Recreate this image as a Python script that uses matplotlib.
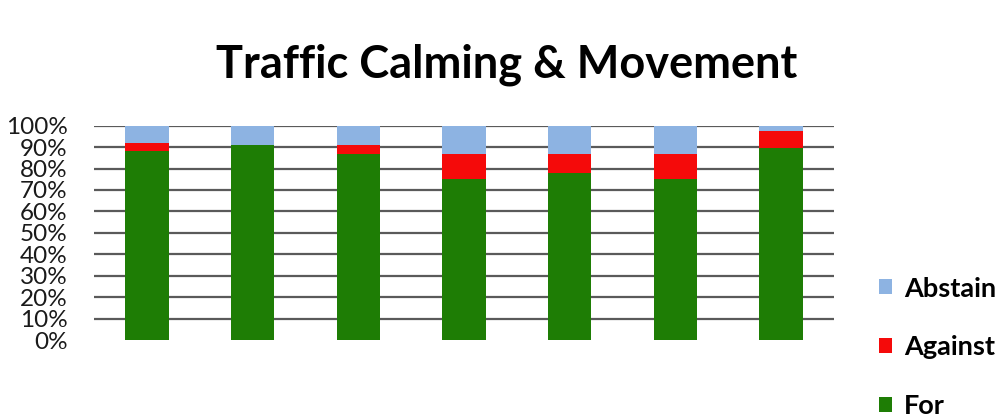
import numpy as np
import matplotlib
matplotlib.use("Agg")
import matplotlib.pyplot as plt
from matplotlib.ticker import PercentFormatter

# values (share of responses, %)
questions = ["Q1", "Q2", "Q3", "Q4", "Q5", "Q6", "Q7"]
vote_for = [88, 91, 87, 75, 78, 75, 89.5]
vote_against = [4, 0, 4, 12, 9, 12, 8]
vote_abstain = [8, 9, 9, 13, 13, 13, 2.5]

green = "#1e7d05"
red = "#f50a0a"
blue = "#8db3e2"

plt.rcParams["font.family"] = ["Lato", "DejaVu Sans"]

fig = plt.figure(figsize=(10, 4.19), dpi=100)
ax = fig.add_axes([0.094, 0.1885, 0.740, 0.5115])

x = np.arange(len(questions))
bottom_against = np.array(vote_for)
bottom_abstain = bottom_against + np.array(vote_against)

b_for = ax.bar(x, vote_for, width=0.41, color=green, label="For", zorder=3)
b_against = ax.bar(x, vote_against, width=0.41, bottom=bottom_against, color=red, label="Against", zorder=3)
b_abstain = ax.bar(x, vote_abstain, width=0.41, bottom=bottom_abstain, color=blue, label="Abstain", zorder=3)

ax.set_xlim(-0.5, len(questions) - 0.5)
ax.set_ylim(0, 100)
ax.set_yticks(np.arange(0, 101, 10))
ax.yaxis.set_major_formatter(PercentFormatter(decimals=0))
ax.tick_params(axis="y", length=0, pad=19, labelsize=17.5, labelcolor="#1a1a1a")
ax.set_xticks([])
for s in ax.spines.values():
    s.set_visible(False)
for v in range(10, 101, 10):
    ax.axhline(v, color="#5a5a5a", linewidth=1.6, zorder=1)

fig.text(0.507, 0.845, "Traffic Calming & Movement", ha="center", va="center",
         fontsize=32.5, fontweight="bold", color="black")

fig.legend([b_abstain, b_against, b_for], ["Abstain", "Against", "For"],
           loc="upper left", bbox_to_anchor=(0.879, 0.34), frameon=False,
           borderpad=0, borderaxespad=0, handlelength=0.48, handleheight=0.48,
           handletextpad=0.45, labelspacing=1.29,
           prop={"size": 19.5, "weight": "bold"})

fig.savefig("out.png", dpi=100, facecolor="white")
